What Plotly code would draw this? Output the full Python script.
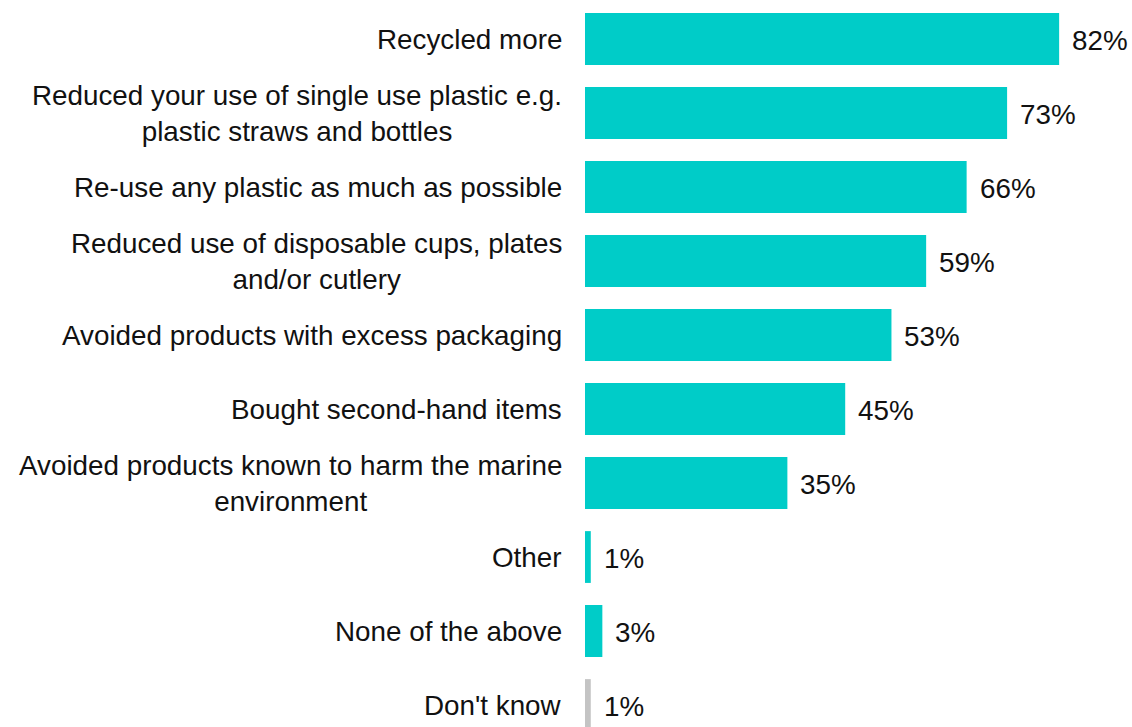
import plotly.graph_objects as go

categories = [
    "Recycled more",
    "Reduced your use of single use plastic e.g.<br>plastic straws and bottles",
    "Re-use any plastic as much as possible",
    "Reduced use of disposable cups, plates<br>and/or cutlery",
    "Avoided products with excess packaging",
    "Bought second-hand items",
    "Avoided products known to harm the marine<br>environment",
    "Other",
    "None of the above",
    "Don't know",
]
values = [82, 73, 66, 59, 53, 45, 35, 1, 3, 1]
colors = ["#00CCC8"] * 9 + ["#C4C4C4"]

positions = list(range(len(categories)))
FONT = "Liberation Sans, Arial, sans-serif"
FS = 27.8

fig = go.Figure(
    go.Bar(
        x=values,
        y=positions,
        orientation="h",
        marker=dict(color=colors, line=dict(width=0)),
        width=0.70,
        hoverinfo="skip",
    )
)

annotations = []
for p, cat, v in zip(positions, categories, values):
    annotations.append(dict(
        x=0, y=p, xref="x", yref="y", text=cat, showarrow=False,
        xanchor="right", yanchor="middle", align="center", xshift=-21,
        font=dict(family=FONT, size=FS, color="#111111"),
    ))
    annotations.append(dict(
        x=v, y=p, xref="x", yref="y", text=f"{v}%", showarrow=False,
        xanchor="left", yanchor="middle", xshift=11, yshift=-1,
        font=dict(family=FONT, size=FS, color="#111111"),
    ))

fig.update_layout(
    width=1132, height=727,
    margin=dict(l=585, r=0, t=0, b=0),
    paper_bgcolor="white", plot_bgcolor="white",
    showlegend=False,
    annotations=annotations,
    xaxis=dict(range=[0, 94.6], visible=False),
    yaxis=dict(range=[9.297, -0.527], visible=False),
)

fig.write_html(
    "out.html",
    config={"displayModeBar": False, "staticPlot": True},
    post_script="document.body.style.margin='0';document.body.style.overflow='hidden';",
)
